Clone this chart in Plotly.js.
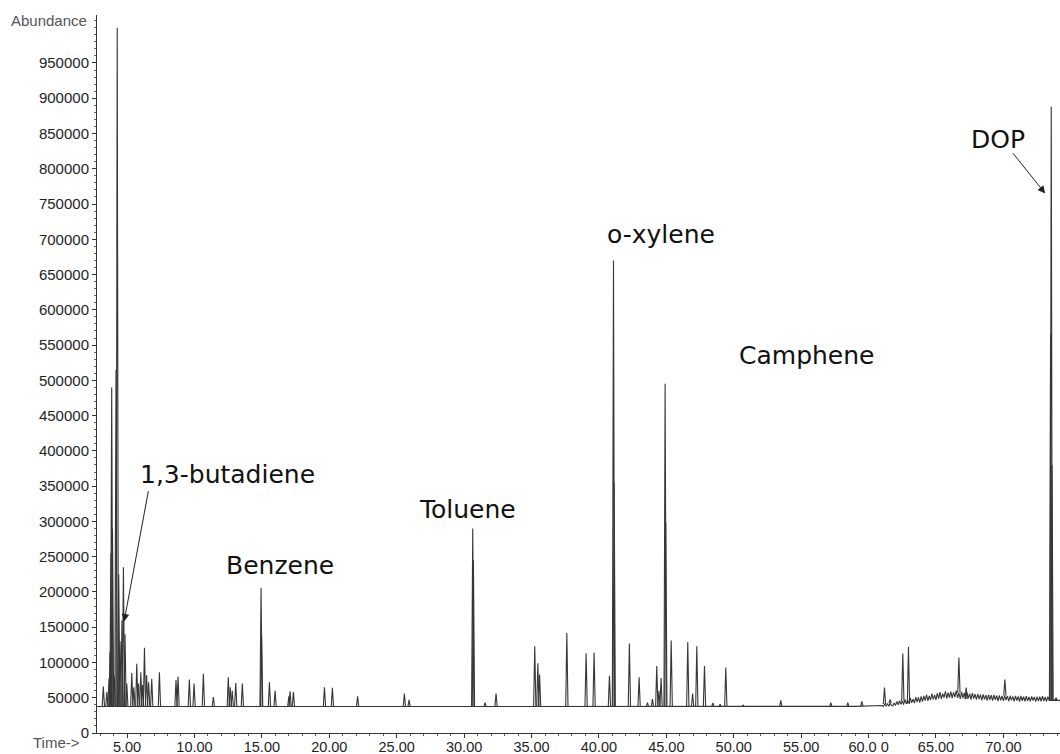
<!DOCTYPE html>
<html>
<head>
<meta charset="utf-8">
<script src="https://cdn.plot.ly/plotly-3.0.1.min.js"></script>
<style>
  html, body { margin: 0; padding: 0; background: #fff; }
  #chart { width: 1060px; height: 754px; }
</style>
</head>
<body>
<div id="chart"></div>
<script>
// Retention times (min) of the resolved peaks
const peakTimes = [
  3.24, 3.50, 3.66, 3.74, 3.80, 3.86, 3.92, 4.05, 4.18, 4.27, 4.38, 4.48, 4.62, 4.73, 4.85, 4.98,
  5.35, 5.50, 5.72, 5.85, 6.02, 6.15, 6.29, 6.45, 6.60, 6.83, 7.40, 8.63, 8.78, 9.62, 9.97,
  10.66, 11.40, 12.51, 12.65, 12.80, 13.06, 13.55, 14.94, 14.98, 15.56, 15.98, 17.00, 17.09, 17.34,
  19.64, 20.23, 22.10, 25.57, 25.92, 30.64, 30.69, 31.56, 32.37, 35.24, 35.47, 35.60, 37.62,
  39.05, 39.64, 40.78, 41.08, 41.13, 42.26, 42.98, 43.60, 43.97, 44.29, 44.45, 44.61, 44.91, 44.96,
  45.36, 46.59, 46.95, 47.26, 47.83, 48.45, 48.99, 49.41, 50.70, 53.49, 57.20, 58.46,
  59.50, 61.18, 61.60, 62.54, 62.96, 66.70, 67.24, 70.11, 73.50, 73.55, 73.61, 73.90
];
// Apex abundance of each peak
const peakHeights = [
  66000, 58000, 77000, 115000, 255000, 490000, 290000, 80000, 515000, 1000000, 225000, 130000, 160000, 235000, 140000, 70000,
  85000, 65000, 98000, 70000, 86000, 68000, 121000, 82000, 72000, 77000, 86000, 75000, 80000, 76000, 70000,
  84000, 51000, 79000, 65000, 60000, 71000, 70000, 206000, 138000, 72000, 60000, 52000, 59000, 58000,
  65000, 64000, 52000, 56000, 47000, 290000, 245000, 43000, 56000, 123000, 99000, 83000, 142000,
  113000, 114000, 81000, 670000, 355000, 127000, 79000, 43000, 48000, 95000, 60000, 78000, 495000, 298000,
  131000, 129000, 56000, 123000, 95000, 42500, 40600, 92700, 39600, 46400, 43100, 43100,
  45000, 64400, 47800, 112600, 122000, 107000, 64400, 75700, 565000, 888000, 380000, 50000
];

// Baseline before the late-eluting hump
const baseTimes = [2.77, 59.0, 61.0];
const baseLevels = [37500, 37800, 39000];

// Noisy column-bleed hump, sampled from 61.0 min in 0.1 min steps
const humpStart = 61.0;
const humpStep = 0.1;
const humpLevels = [
  39000, 37600, 41100, 38300, 41800, 37900, 42200, 39000, 38600, 42500,
  39200, 44600, 39900, 45700, 40800, 45400, 40200, 47600, 41200, 46800,
  41600, 49700, 42800, 48100, 42300, 50900, 43700, 50400, 43100, 51800,
  44600, 52700, 45900, 54300, 45400, 52600, 46800, 55700, 47600, 53700,
  47100, 56400, 48700, 58100, 48200, 55800, 50100, 59200, 48900, 57300,
  50300, 58700, 49400, 57600, 50800, 60100, 49700, 57000, 48300, 58300,
  49600, 56800, 48100, 57200, 49200, 55900, 47300, 56500, 48600, 55200,
  47400, 55600, 48000, 54400, 46300, 54900, 47700, 53600, 46100, 54300,
  46900, 53800, 45800, 54100, 47100, 52900, 45300, 53500, 46400, 52600,
  45600, 53200, 46800, 52400, 45100, 52800, 46200, 51900, 44700, 52500,
  45900, 51800, 44600, 52600, 45700, 51500, 45000, 52100, 45500, 51300,
  44800, 52000, 46000, 51200, 44400, 51700, 45300, 51400, 44900, 52200,
  45400, 51100, 44700, 51600, 46300
];
const runEnd = 74.2;

// Compound labels and where they sit
const labelText = ['1,3-butadiene', 'Benzene', 'Toluene', 'o-xylene', 'Camphene', 'DOP'];
const labelTime = [12.42, 16.35, 30.22, 44.6, 55.4, 69.6];
const labelLevel = [366900, 237800, 316500, 707000, 535300, 842000];

// Time axis ticks
const timeTicks = [5, 10, 15, 20, 25, 30, 35, 40, 45, 50, 55, 60, 65, 70];
const timeTickText = ['5.00', '10.00', '15.00', '20.00', '25.00', '30.00', '35.00', '40.00',
                      '45.00', '50.00', '55.00', '60.0 0', '65.00', '70.00'];
// Abundance axis ticks
const abundTicks = [];
for (let v = 0; v <= 950000; v += 50000) abundTicks.push(v);
const abundTickText = abundTicks.map(v => String(v));

// ---- build the trace ----
const humpTimes = humpLevels.map((_, i) => +(humpStart + i * humpStep).toFixed(3));

function baseAt(t) {
  if (t >= humpStart) {
    let idx = Math.round((t - humpStart) / humpStep);
    idx = Math.max(0, Math.min(humpLevels.length - 1, idx));
    return humpLevels[idx];
  }
  let lvl = baseLevels[0];
  for (let i = 0; i < baseTimes.length; i++) if (baseTimes[i] <= t) lvl = baseLevels[i];
  return lvl;
}

// background line: flat baseline then the noisy hump
const bgX = baseTimes.slice(0, -1).concat(humpTimes, [runEnd]);
const bgY = baseLevels.slice(0, -1).concat(humpLevels, [humpLevels[humpLevels.length - 1]]);

// peaks as narrow spikes standing on the baseline
const halfWidth = 0.085;
const pkX = [], pkY = [];
peakTimes.forEach((t, i) => {
  const b = baseAt(t);
  pkX.push(t - halfWidth, t, t + halfWidth, null);
  pkY.push(b, peakHeights[i], b, null);
});

const lineStyle = { color: '#363636', width: 1.1, simplify: false };
const traces = [
  { x: bgX, y: bgY, type: 'scatter', mode: 'lines', line: lineStyle, hoverinfo: 'skip' },
  { x: pkX, y: pkY, type: 'scatter', mode: 'lines', line: lineStyle, connectgaps: false, hoverinfo: 'skip' }
];

const tickFont = { family: 'Liberation Sans, Arial, sans-serif', size: 15, color: '#1e1e1e' };
const xTickFont = { family: 'Liberation Sans, Arial, sans-serif', size: 14.5, color: '#1e1e1e' };
const labelFont = { family: 'DejaVu Sans, Verdana, sans-serif', size: 25, color: '#111' };

const annotations = labelText.map((txt, i) => ({
  x: labelTime[i], y: labelLevel[i], xref: 'x', yref: 'y',
  text: txt, showarrow: false, font: labelFont, xanchor: 'center', yanchor: 'middle'
}));

// pointer arrows
annotations.push({
  x: 4.78, y: 158000, ax: 6.6, ay: 345000, xref: 'x', yref: 'y', axref: 'x', ayref: 'y',
  text: '', showarrow: true, arrowhead: 2, arrowsize: 1.5, arrowwidth: 1, arrowcolor: '#222'
});
annotations.push({
  x: 73.1, y: 765000, ax: 70.63, ay: 824000, xref: 'x', yref: 'y', axref: 'x', ayref: 'y',
  text: '', showarrow: true, arrowhead: 2, arrowsize: 1.5, arrowwidth: 1, arrowcolor: '#222'
});

annotations.push({
  x: -0.0083, y: 0.992, xref: 'paper', yref: 'paper', xanchor: 'right', yanchor: 'middle',
  text: 'Abundance', showarrow: false,
  font: { family: 'Liberation Sans, Arial, sans-serif', size: 15, color: '#555' }
});
annotations.push({
  x: -0.0159, y: -0.0139, xref: 'paper', yref: 'paper', xanchor: 'right', yanchor: 'middle',
  text: 'Time->', showarrow: false,
  font: { family: 'Liberation Sans, Arial, sans-serif', size: 15, color: '#555' }
});

const layout = {
  width: 1060, height: 754,
  margin: { l: 97, r: 0, t: 15, b: 21, pad: 0 },
  paper_bgcolor: '#ffffff', plot_bgcolor: '#ffffff',
  showlegend: false,
  xaxis: {
    range: [2.77, 74.2], tickmode: 'array', tickvals: timeTicks, ticktext: timeTickText,
    ticks: 'outside', ticklen: 4, tickwidth: 1, tickcolor: '#333', ticklabelstandoff: -3,
    showline: true, linecolor: '#333', linewidth: 1, showgrid: false, zeroline: false,
    tickfont: xTickFont,
    minor: { tickmode: 'linear', tick0: 0, dtick: 1, ticks: 'outside', ticklen: 2, tickcolor: '#555', showgrid: false }
  },
  yaxis: {
    range: [0, 1018000], tickmode: 'array', tickvals: abundTicks, ticktext: abundTickText,
    ticks: 'outside', ticklen: 4, tickwidth: 1, tickcolor: '#333',
    showline: true, linecolor: '#333', linewidth: 1, showgrid: false, zeroline: false,
    tickfont: tickFont,
    minor: { tickmode: 'linear', tick0: 0, dtick: 10000, ticks: 'outside', ticklen: 2, tickcolor: '#666', showgrid: false }
  },
  annotations: annotations
};

Plotly.newPlot('chart', traces, layout, { displayModeBar: false, staticPlot: true });
</script>
</body>
</html>
